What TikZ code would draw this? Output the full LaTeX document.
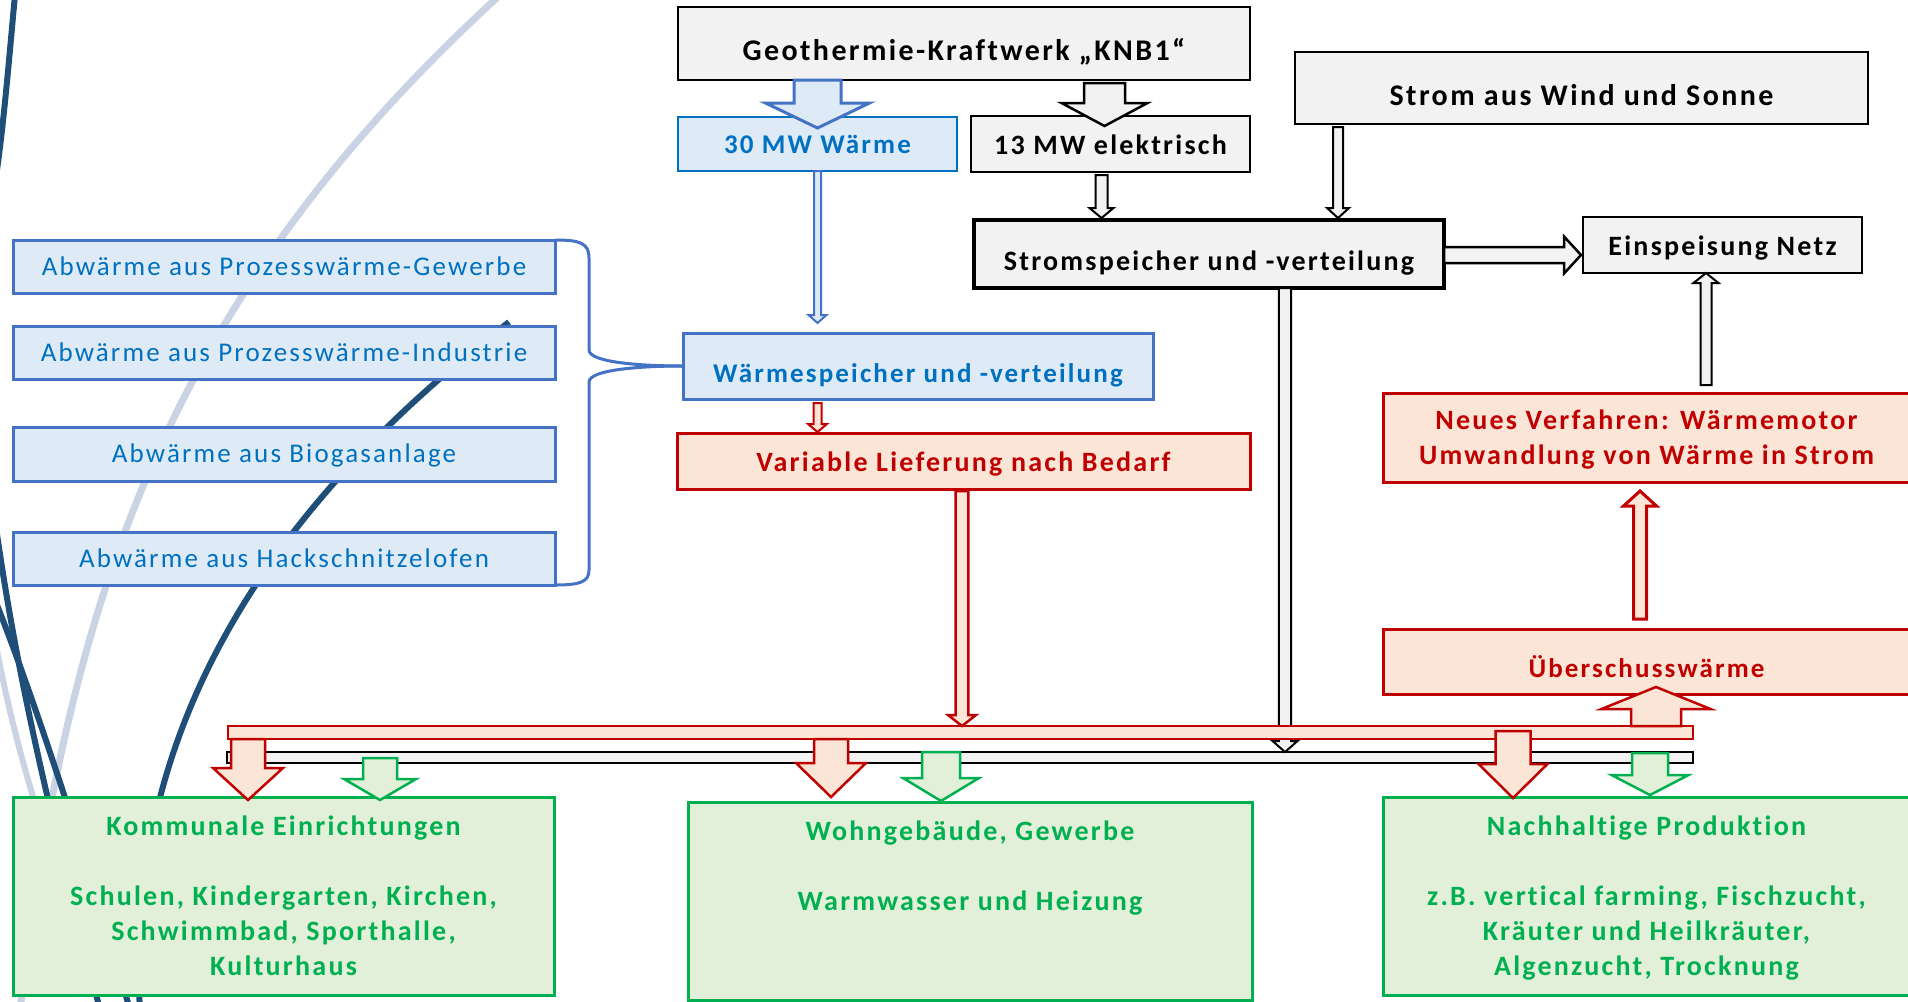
\documentclass[tikz,border=0pt]{standalone}
\usepackage{fontspec}
\setmainfont[LetterSpace=8, Ligatures=CommonOff]{Carlito}
\usepackage{tikz}
\usepackage{xcolor}
\usetikzlibrary{calc}

\definecolor{boxgray}{HTML}{F2F2F2}
\definecolor{heatblue}{HTML}{0070C0}
\definecolor{lineblue}{HTML}{4472C4}
\definecolor{fillblue}{HTML}{DEEBF7}
\definecolor{heatred}{HTML}{C00000}
\definecolor{fillred}{HTML}{FBE5D6}
\definecolor{usegreen}{HTML}{00B050}
\definecolor{fillgreen}{HTML}{E2F0D9}
\definecolor{swooshdark}{HTML}{1F4E79}
\definecolor{swooshlight}{HTML}{C9D3E3}

\tikzstyle{graybox} = [rectangle, draw=black, line width=2.5pt, fill=boxgray, inner sep=0pt, outer sep=0pt, align=center, font=\fontsize{28}{35}\selectfont\bfseries, text height=18pt, text depth=0pt]
\tikzstyle{bluebox} = [rectangle, draw=lineblue, line width=3pt, fill=fillblue, text=heatblue, inner sep=0pt, outer sep=0pt, align=center, font=\fontsize{27}{34}\selectfont, text height=17pt, text depth=0pt]
\tikzstyle{redbox} = [rectangle, draw=heatred, line width=3pt, fill=fillred, text=heatred, inner sep=0pt, outer sep=0pt, align=center, font=\fontsize{28}{35}\selectfont\bfseries]
\tikzstyle{greenbox} = [rectangle, draw=usegreen, line width=3pt, fill=fillgreen, text=usegreen, inner sep=0pt, outer sep=0pt, align=center, font=\fontsize{28}{35}\selectfont\bfseries]
\tikzstyle{bus} = [rectangle, inner sep=0pt, outer sep=0pt, line width=2pt]
\tikzstyle{grayarrow} = [draw=black, line width=2pt, fill=boxgray, line join=miter]
\tikzstyle{bluearrow} = [draw=lineblue, line width=2.5pt, fill=fillblue, line join=miter]
\tikzstyle{redarrow} = [draw=heatred, line width=2.5pt, fill=fillred, line join=miter]
\tikzstyle{greenarrow} = [draw=usegreen, line width=2.5pt, fill=fillgreen, line join=miter]
\tikzstyle{brace} = [draw=lineblue, line width=3pt]
\tikzstyle{swoosh} = [line width=6pt]

% block arrow: style, from, to, shaft half width, head half width, head length
\newcommand{\blockarrow}[6]{%
  \coordinate (ba-h) at ($(#3)!#6!(#2)$);
  \draw[#1] ($(#2)!#4!90:(#3)$) -- ($(ba-h)!#4!90:(#3)$) -- ($(ba-h)!#5!90:(#3)$) -- (#3)
    -- ($(ba-h)!#5!-90:(#3)$) -- ($(ba-h)!#4!-90:(#3)$) -- ($(#2)!#4!-90:(#3)$) -- cycle;}

\begin{document}
\begin{tikzpicture}[x=1pt, y=-1pt]
\useasboundingbox (0,0) rectangle (1908,1001);

% background swooshes
\draw [swoosh, swooshlight, line width=7pt] (500,-5) .. controls (166,300) and (68,601) .. (20,1010);
\draw [swoosh, swooshlight] (-5,640) .. controls (10,720) and (25,770) .. (40,820);
\draw [swoosh, swooshdark] (15,-5) .. controls (9,60) and (4,120) .. (-3,170);
\draw [swoosh, swooshdark] (-5,520) .. controls (20,700) and (60,850) .. (100,1010);
\draw [swoosh, swooshdark] (-5,600) .. controls (35,700) and (90,870) .. (130,1010);
\draw [swoosh, swooshdark] (509,322) .. controls (330,460) and (120,680) .. (140,1010);

\node (geo) [graybox, minimum width=572, minimum height=73, font=\fontsize{30}{36}\selectfont\bfseries, text height=34pt] at (964,43.5) {Geothermie-Kraftwerk „KNB1“};

\node (wind) [graybox, minimum width=573, minimum height=72, font=\fontsize{30}{36}\selectfont\bfseries, text height=34pt] at (1581.5,88) {Strom aus Wind und Sonne};

\node (w30) [bluebox, draw=heatblue, line width=2.5pt, minimum width=279, minimum height=54, font=\fontsize{27}{34}\selectfont\bfseries, text height=19pt] at (817.5,144) {30 MW Wärme};

\node (e13) [graybox, minimum width=279, minimum height=56, text height=20pt] at (1110.5,144) {13 MW elektrisch};

\node (strom) [graybox, line width=3.5pt, minimum width=470, minimum height=68, text height=32pt] at (1209,254) {Stromspeicher und -verteilung};

\node (netz) [graybox, minimum width=279, minimum height=56, text height=20pt] at (1722.5,245) {Einspeisung Netz};

\node (abw1) [bluebox, minimum width=542, minimum height=53] at (284,266.5) {Abwärme aus Prozesswärme-Gewerbe};

\node (abw2) [bluebox, minimum width=542, minimum height=53] at (284,352.5) {Abwärme aus Prozesswärme-Industrie};

\node (abw3) [bluebox, minimum width=542, minimum height=54] at (284,454) {Abwärme aus Biogasanlage};

\node (abw4) [bluebox, minimum width=542, minimum height=53] at (284,558.5) {Abwärme aus Hackschnitzelofen};

\node (wsp) [bluebox, minimum width=470, minimum height=66, font=\fontsize{27}{34}\selectfont\bfseries, text height=32pt] at (918,366) {Wärmespeicher und -verteilung};

\node (varl) [redbox, minimum width=573, minimum height=56, text height=20pt, text depth=0pt] at (963.5,461) {Variable Lieferung nach Bedarf};

\node (neu) [redbox, minimum width=527, minimum height=89] at (1646.5,437.5) {Neues Verfahren: Wärmemotor\\\smash{Umwandlung von Wärme in Strom}};

\node (ueber) [redbox, minimum width=527, minimum height=65, font=\fontsize{27}{34}\selectfont\bfseries, text height=31pt, text depth=0pt] at (1646.5,661.5) {Überschusswärme};

\node (komm) [greenbox, minimum width=541, minimum height=198] at (283.5,896) {Kommunale Einrichtungen\\[35pt]Schulen, Kindergarten, Kirchen,\\Schwimmbad, Sporthalle,\\Kulturhaus};

\node (wohn) [greenbox, minimum width=564, minimum height=198] at (970,901) {Wohngebäude, Gewerbe\\[35pt]Warmwasser und Heizung\\[35pt]~};

\node (nach) [greenbox, minimum width=527, minimum height=198] at (1646.5,896) {Nachhaltige Produktion\\[35pt]z.B. vertical farming, Fischzucht,\\Kräuter und Heilkräuter,\\\smash{Algenzucht, Trocknung}};

\node (ebus) [bus, draw=black, fill=boxgray, minimum width=1466, minimum height=11] at (960,757.5) {};

% brace from the waste heat sources
\draw [brace] (abw1.north east) .. controls +(25,0) and +(0,-15) .. (589,258) -- (589,350) .. controls +(0,12) and +(-45,0) .. (wsp.west);
\draw [brace] (wsp.west) .. controls +(-45,0) and +(0,-12) .. (589,382) -- (589,570) .. controls +(0,12) and +(25,0) .. (abw4.south east);

% end points of the block arrows
\coordinate (a1s) at (w30.north |- geo.south);
\coordinate (a1t) at ($(w30.north)+(0,11)$);
\coordinate (a2s) at ($(e13.north |- geo.south)+(-6,3)$);
\coordinate (a2t) at ($(e13.north)+(-6,10)$);
\coordinate (a3s) at ($(e13.south)+(-9,3)$);
\coordinate (a3t) at ($(a3s |- strom.north)+(0,-2)$);
\coordinate (a4s) at ($(wind.south west)+(43,3)$);
\coordinate (a4t) at ($(a4s |- strom.north)+(0,-2)$);
\coordinate (a5s) at ($(strom.east)+(0,1)$);
\coordinate (a5t) at ($(netz.west |- a5s)+(-2,0)$);
\coordinate (a6s) at ($(neu.north west)+(323,-8)$);
\coordinate (a6t) at (a6s |- netz.south);
\coordinate (a7s) at ($(ueber.north west)+(257,-10)$);
\coordinate (a7t) at ($(a7s |- neu.south)+(0,9)$);
\coordinate (a9s) at (w30.south);
\coordinate (a9t) at ($(w30.south |- wsp.north)+(0,-10)$);
\coordinate (a10s) at ($(w30.south |- wsp.south)+(0,4)$);
\coordinate (a10t) at ($(a10s |- varl.north)+(0,-1)$);
\coordinate (a11s) at ($(varl.south)+(-1.5,2)$);
\coordinate (a12s) at ($(strom.south west)+(311,0)$);
\coordinate (a12t) at (a12s |- ebus.north);

% Arrows
\blockarrow{bluearrow, line width=3pt}{a1s}{a1t}{23.5pt}{52pt}{25pt}
\blockarrow{grayarrow, line width=2.5pt}{a2s}{a2t}{20.5pt}{43pt}{23pt}
\blockarrow{grayarrow}{a3s}{a3t}{6pt}{12pt}{10pt}
\blockarrow{grayarrow}{a4s}{a4t}{5pt}{11pt}{10pt}
\blockarrow{grayarrow, line width=2.5pt}{a5s}{a5t}{8pt}{18.5pt}{17pt}
\blockarrow{grayarrow}{a6s}{a6t}{5.5pt}{12.5pt}{10pt}
\blockarrow{redarrow, line width=3pt}{a7s}{a7t}{6.5pt}{16.5pt}{15pt}
\blockarrow{bluearrow, line width=2pt}{a9s}{a9t}{3.5pt}{9pt}{8pt}
\blockarrow{redarrow, line width=2pt}{a10s}{a10t}{4pt}{9.5pt}{8pt}
\blockarrow{grayarrow}{a12s}{a12t}{6.2pt}{12.5pt}{11pt}

\node (wbus) [bus, draw=heatred, fill=fillred, minimum width=1465, minimum height=13] at (960.5,732.5) {};

\coordinate (a11t) at (a11s |- wbus.north);
\coordinate (a8s) at ($(wbus.north east)+(-37,0)$);
\coordinate (a8t) at ($(a8s |- ueber.south)+(0,-7)$);
\coordinate (a13s) at ($(wbus.south west)+(20,0)$);
\coordinate (a13t) at ($(a13s |- komm.north)+(0,3)$);
\coordinate (a14s) at ($(wbus.south -| wohn.north)+(-139,0)$);
\coordinate (a14t) at ($(a14s |- wohn.north)+(0,-5)$);
\coordinate (a15s) at ($(nach.north west |- wbus.south)+(130,-8)$);
\coordinate (a15t) at ($(a15s |- nach.north)+(0,1)$);
\coordinate (a16s) at ($(komm.north west |- ebus.south)+(367,-5)$);
\coordinate (a16t) at ($(a16s |- komm.north)+(0,3)$);
\coordinate (a17s) at ($(wohn.north |- ebus.north)+(-29,0)$);
\coordinate (a17t) at ($(a17s |- wohn.north)+(0,-1)$);
\coordinate (a18s) at ($(nach.north west |- ebus.north)+(267,1)$);
\coordinate (a18t) at ($(a18s |- nach.north)+(0,-2)$);

\blockarrow{redarrow}{a11s}{a11t}{6.3pt}{14pt}{11pt}
\blockarrow{redarrow}{a8s}{a8t}{25pt}{54.5pt}{22pt}
\blockarrow{redarrow}{a13s}{a13t}{17pt}{35pt}{32pt}
\blockarrow{redarrow}{a14s}{a14t}{17pt}{35pt}{34pt}
\blockarrow{redarrow}{a15s}{a15t}{17.5pt}{34.5pt}{34pt}
\blockarrow{greenarrow}{a16s}{a16t}{17pt}{36pt}{21pt}
\blockarrow{greenarrow}{a17s}{a17t}{19pt}{38pt}{23pt}
\blockarrow{greenarrow}{a18s}{a18t}{18pt}{38.5pt}{20pt}

\end{tikzpicture}
\end{document}
